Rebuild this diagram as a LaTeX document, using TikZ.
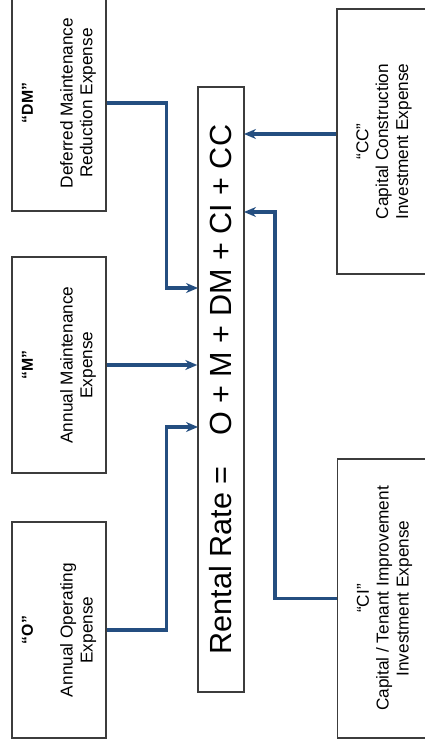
\documentclass[tikz,border=0pt]{standalone}
\usepackage{fontspec}
\setmainfont{Liberation Sans}
\usetikzlibrary{arrows.meta, positioning}
\definecolor{rateBlue}{RGB}{36,78,128}
\definecolor{boxGray}{RGB}{60,60,60}
\newcommand{\costtag}[1]{{\fontsize{9}{11.3}\selectfont\bfseries “#1”}}

\begin{document}
\begin{tikzpicture}[
cost/.style={rectangle, draw=boxGray, fill=white, line width=0.8pt,
rotate=90, minimum height=1.88cm, inner sep=0pt, align=center,
font=\fontsize{9.8}{11.3}\selectfont},
arrow/.style={-{Stealth[length=2.4mm,width=2mm]}, line width=2pt, color=rateBlue}]
\useasboundingbox (0,0) rectangle (8.5,-14.96);
\node[cost, minimum width=12.10cm, minimum height=0.92cm,
    font=\fontsize{17.4}{20}\selectfont] (rate) at (4.42,-7.79)
    {Rental Rate =\hspace{1em}O + M + DM + CI + CC};
\node[cost, minimum width=4.32cm] (dm) at (1.18,-2.06)
    {\costtag{DM}\\[11.3pt]Deferred Maintenance\\Reduction Expense};
\node[cost, minimum width=4.32cm] (m) at (1.18,-7.30)
    {\costtag{M}\\[11.3pt]Annual Maintenance\\Expense};
\node[cost, minimum width=4.32cm] (o) at (1.18,-12.60)
    {\costtag{O}\\[11.3pt]Annual Operating\\Expense};
\node[cost, minimum width=5.30cm] (cc) at (7.68,-2.83)
    {“CC”\\Capital Construction\\Investment Expense};
\node[cost, minimum width=5.58cm] (ci) at (7.69,-11.97)
    {“CI”\\Capital / Tenant Improvement\\Investment Expense};
% entry points on the rate box
\coordinate (inDM) at (3.96,-5.76);
\coordinate (inO)  at (3.96,-8.54);
\coordinate (inCI) at (4.88,-4.24);
\coordinate (inCC) at (4.88,-2.68);
\draw[arrow] (dm.south) -- ++(1.2,0) |- (inDM);
\draw[arrow] (m.south)  -- (m.south -| rate.north);
\draw[arrow] (o.south)  -- ++(1.2,0) |- (inO);
\draw[arrow] (cc.north |- inCC) -- (inCC);
\draw[arrow] (ci.north) -- ++(-1.24,0) |- (inCI);
\end{tikzpicture}
\end{document}
